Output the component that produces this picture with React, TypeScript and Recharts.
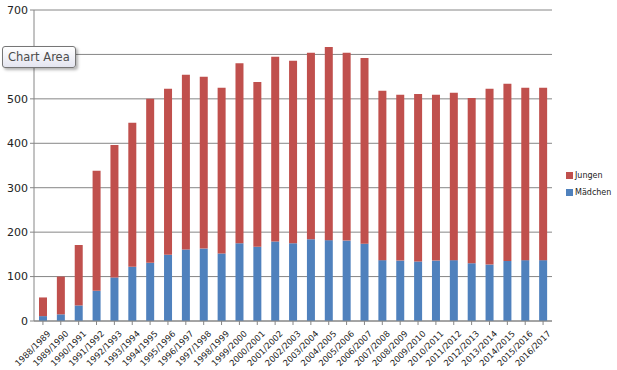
import { Bar, BarChart, CartesianGrid, XAxis, YAxis } from "recharts";

const years = [
  "1988/1989", "1989/1990", "1990/1991", "1991/1992", "1992/1993", "1993/1994",
  "1994/1995", "1995/1996", "1996/1997", "1997/1998", "1998/1999", "1999/2000",
  "2000/2001", "2001/2002", "2002/2003", "2003/2004", "2004/2005", "2005/2006",
  "2006/2007", "2007/2008", "2008/2009", "2009/2010", "2010/2011", "2011/2012",
  "2012/2013", "2013/2014", "2014/2015", "2015/2016", "2016/2017",
];

const maedchen = [
  11, 15, 35, 68, 98, 122, 131, 149, 161, 163, 152, 175,
  167, 179, 175, 184, 182, 181, 174, 137, 136, 134, 136, 137,
  130, 127, 135, 137, 137,
];

const jungen = [
  42, 85, 136, 270, 298, 324, 369, 374, 393, 387, 373, 405,
  371, 416, 411, 420, 435, 423, 418, 381, 373, 377, 373, 377,
  372, 396, 399, 388, 388,
];

const yTicks = [0, 100, 200, 300, 400, 500, 600, 700];

const data = years.map((year, i) => ({
  year,
  Mädchen: maedchen[i],
  Jungen: jungen[i],
}));

const RED = "#C0504D";
const BLUE = "#4F81BD";
const AXIS = "#868686";
const FONT = "'DejaVu Sans', sans-serif";

const YearTick = (props: any) => {
  const { x, y, payload } = props;
  return (
    <g transform={`translate(${x + 4},${y + 3})`}>
      <text
        transform="rotate(-45)"
        textAnchor="end"
        dy={6}
        fontSize={8.5}
        fontFamily={FONT}
        fill="#222"
      >
        {payload.value}
      </text>
    </g>
  );
};

const legendItems = [
  { name: "Jungen", color: RED },
  { name: "Mädchen", color: BLUE },
];

export default function App() {
  return (
    <div
      style={{
        position: "absolute",
        left: 0,
        top: 0,
        width: 617,
        height: 370,
        background: "#fff",
      }}
    >
      <BarChart
        width={617}
        height={370}
        data={data}
        margin={{ top: 10, right: 65, bottom: 0, left: 0 }}
        barSize={8}
      >
        <CartesianGrid vertical={false} stroke={AXIS} strokeWidth={1} />
        <XAxis
          dataKey="year"
          interval={0}
          height={49}
          stroke={AXIS}
          tickLine={{ stroke: AXIS }}
          tickSize={4}
          tick={<YearTick />}
        />
        <YAxis
          domain={[0, 700]}
          ticks={yTicks}
          width={34}
          stroke={AXIS}
          tickSize={4}
          tick={{ fontSize: 11, fontFamily: FONT, fill: "#222" }}
        />
        <Bar dataKey="Mädchen" stackId="a" fill={BLUE} isAnimationActive={false} />
        <Bar dataKey="Jungen" stackId="a" fill={RED} isAnimationActive={false} />
      </BarChart>
      <div
        style={{
          position: "absolute",
          left: 566,
          top: 167,
          fontFamily: FONT,
          fontSize: 8,
          color: "#222",
        }}
      >
        {legendItems.map((item) => (
          <div
            key={item.name}
            style={{ display: "flex", alignItems: "center", height: 17 }}
          >
            <span
              style={{
                width: 7,
                height: 7,
                background: item.color,
                display: "inline-block",
                marginRight: 2,
              }}
            />
            {item.name}
          </div>
        ))}
      </div>
      <div
        style={{
          position: "absolute",
          left: 2,
          top: 46,
          padding: "3px 5px",
          border: "1px solid #767676",
          borderRadius: 3,
          background: "linear-gradient(#ffffff, #e4e5f0)",
          boxShadow: "2px 2px 3px rgba(0,0,0,0.3)",
          fontFamily: FONT,
          fontSize: 11.5,
          color: "#4c4c4c",
        }}
      >
        Chart Area
      </div>
    </div>
  );
}
